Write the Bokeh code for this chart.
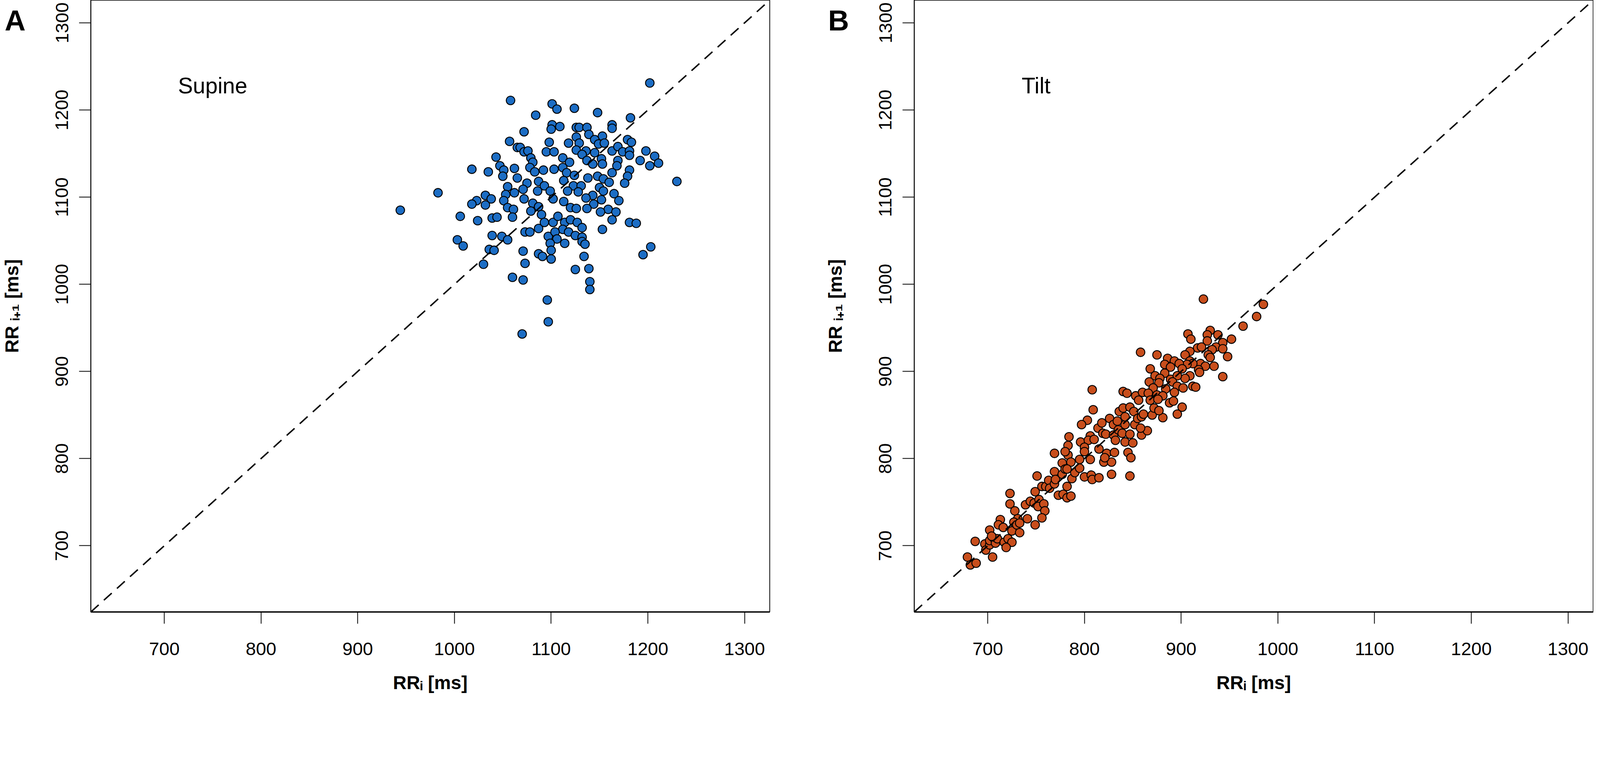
from bokeh.plotting import figure
from bokeh.layouts import row
from bokeh.models import Range1d, FixedTicker, Slope, Label, LinearAxis
from bokeh.embed import file_html
from bokeh.resources import INLINE

# ---------------- data ----------------
AXIS_TICKS = [700, 800, 900, 1000, 1100, 1200, 1300]
AXIS_LIMITS = [624, 1326]
PANEL_LETTERS = ["A", "B"]
LETTER_Y = 1312
CONDITIONS = ["Supine", "Tilt"]
COND_TEXT_POS = [750, 1228]
X_TITLE = "RRᵢ [ms]"
Y_TITLE = "RR ᵢ₊₁ [ms]"

SUPINE_X = [1202, 1058, 1101, 1106, 1124, 1148, 1084, 1182, 1101, 1109, 1100, 1072, 1126, 1129, 1137,
            1163, 1163, 1139, 1126, 1153, 1057, 1098, 1118, 1129, 1145, 1149, 1179, 1183, 1065, 1068,
            1072, 1076, 1095, 1103, 1126, 1136, 1145, 1155, 1163, 1169, 1174, 1181, 1181, 1198, 1207,
            1192, 1211, 1202, 1043, 1079, 1081, 1112, 1119, 1132, 1137, 1143, 1152, 1153, 1169, 1168,
            1181, 1179, 1176, 1230, 1047, 1051, 1062, 1050, 1065, 1018, 1035, 1078, 1083, 1092, 1103,
            1112, 1116, 1124, 1138, 1148, 1154, 1163, 1160, 1113, 1087, 1093, 1075, 1055, 1123, 1131,
            1150, 983, 1032, 1038, 1023, 1018, 1032, 1053, 1062, 1071, 1086, 1099, 1117, 1128, 1143,
            1154, 1165, 1170, 1051, 1072, 1081, 1102, 1113, 1136, 1144, 1152, 1055, 1061, 1087, 1120,
            1126, 1137, 1159, 1167, 1151, 944, 1006, 1024, 1039, 1044, 1060, 1079, 1090, 1087, 1073,
            1078, 1093, 1102, 1107, 1114, 1120, 1127, 1132, 1112, 1118, 1125, 1132, 1132, 1135, 1097,
            1104, 1106, 1099, 1114, 1100, 1100, 1087, 1091, 1071, 1073, 1060, 1071, 1134, 1125, 1139,
            1140, 1140, 1096, 1097, 1070, 1003, 1009, 1036, 1041, 1030, 1039, 1049, 1055, 1153, 1163,
            1181, 1188, 1203, 1195]
SUPINE_Y = [1231, 1211, 1207, 1201, 1202, 1197, 1194, 1191, 1183, 1181, 1178, 1175, 1180, 1180, 1180,
            1183, 1179, 1172, 1169, 1170, 1164, 1163, 1162, 1162, 1166, 1161, 1166, 1163, 1157, 1157,
            1152, 1153, 1152, 1152, 1154, 1153, 1151, 1162, 1153, 1158, 1152, 1153, 1148, 1153, 1147,
            1142, 1139, 1136, 1146, 1145, 1140, 1145, 1140, 1149, 1142, 1138, 1144, 1138, 1142, 1136,
            1131, 1124, 1116, 1118, 1136, 1131, 1133, 1124, 1122, 1132, 1129, 1134, 1129, 1131, 1132,
            1134, 1128, 1125, 1122, 1124, 1121, 1128, 1117, 1119, 1118, 1113, 1116, 1112, 1113, 1113,
            1111, 1105, 1102, 1098, 1096, 1092, 1091, 1103, 1105, 1109, 1107, 1107, 1107, 1106, 1102,
            1107, 1104, 1096, 1096, 1098, 1093, 1098, 1095, 1099, 1092, 1097, 1088, 1086, 1089, 1088,
            1087, 1087, 1086, 1083, 1083, 1085, 1078, 1073, 1076, 1077, 1077, 1084, 1080, 1064, 1060,
            1060, 1071, 1071, 1078, 1071, 1074, 1071, 1065, 1063, 1060, 1056, 1054, 1049, 1046, 1055,
            1060, 1052, 1047, 1047, 1039, 1029, 1035, 1032, 1038, 1024, 1008, 1005, 1032, 1017, 1018,
            1003, 994, 982, 957, 943, 1051, 1044, 1040, 1039, 1023, 1056, 1055, 1051, 1063, 1074,
            1071, 1070, 1043, 1034]

TILT_X = [679, 682, 688, 687, 697, 698, 702, 705, 702, 702, 706, 708, 710, 704, 713, 711, 716, 717, 721,
          725, 719, 723, 723, 728, 731, 727, 725, 730, 733, 733, 739, 741, 749, 744, 748, 749, 753, 752,
          758, 759, 756, 751, 756, 760, 763, 764, 769, 769, 770, 773, 778, 782, 786, 777, 777, 780, 783,
          786, 782, 787, 790, 795, 795, 769,
          808, 809, 803, 797, 784, 783, 780, 796, 806, 804, 810, 800, 800, 806, 782, 800, 807, 808, 815,
          828, 847, 814, 815, 820, 828, 823, 821, 831, 818, 819, 822, 826, 830, 830, 835, 832, 839, 842,
          845, 848, 850, 847, 852, 859, 865, 858, 842, 836, 840, 847, 842, 851, 855, 859, 870, 881, 853,
          856, 840, 844, 834,
          923, 985, 978, 964, 952, 948, 943, 930, 927, 938, 907, 910, 927, 943, 936, 943, 932, 917, 921,
          909, 904, 928, 930, 920, 925, 934, 918, 919, 909, 912, 906, 909, 904, 912, 915, 875, 858, 886,
          893, 883, 889, 898, 901, 868, 873, 883, 878, 889, 896, 867, 877, 891, 896, 902, 884, 871, 860,
          866, 875, 881, 893, 868, 876, 888, 892, 901, 872, 877, 861, 896]
TILT_Y = [687, 678, 680, 705, 702, 695, 718, 687, 701, 706, 709, 703, 708, 711, 730, 724, 721, 704, 708,
          704, 698, 760, 748, 740, 731, 727, 717, 724, 715, 726, 747, 731, 724, 751, 749, 762, 753, 745,
          748, 740, 732, 780, 768, 768, 775, 766, 771, 785, 776, 758, 759, 755, 757, 795, 782, 788, 804,
          796, 768, 777, 784, 799, 789, 806,
          879, 856, 844, 839, 825, 815, 808, 819, 826, 821, 822, 813, 808, 799, 788, 779, 781, 776, 778,
          782, 780, 835, 811, 796, 796, 806, 801, 807, 841, 829, 828, 846, 839, 827, 833, 821, 829, 819,
          807, 801, 818, 828, 839, 827, 832, 835, 839, 854, 858, 859, 848, 854, 846, 848, 850, 847, 872,
          867, 877, 875, 843,
          983, 977, 963, 952, 937, 917, 894, 947, 942, 942, 943, 937, 935, 933, 928, 926, 925, 927, 928,
          923, 919, 919, 916, 909, 906, 906, 902, 899, 912, 909, 908, 895, 892, 883, 882, 919, 922, 915,
          912, 908, 905, 909, 903, 903, 895, 898, 892, 891, 895, 888, 887, 888, 883, 881, 880, 881, 876,
          875, 873, 872, 876, 867, 868, 864, 866, 859, 858, 855, 851, 851]

# ---------------- layout / style ----------------
FONT = "Liberation Sans"
FRAME_W, FRAME_H = 1740, 1566
BORDER_L = 230
FIG_H = 1784
BORDER_B = FIG_H - FRAME_H


def make_panel(xs, ys, color, cond, letter, border_right):
    p = figure(width=BORDER_L + FRAME_W + border_right, height=FIG_H,
               x_range=Range1d(*AXIS_LIMITS), y_range=Range1d(*AXIS_LIMITS),
               output_backend="svg", toolbar_location=None,
               min_border_left=BORDER_L, min_border_right=border_right,
               min_border_top=0, min_border_bottom=BORDER_B)
    p.title.visible = False
    p.grid.visible = False
    p.background_fill_color = "white"
    p.border_fill_color = "white"
    p.outline_line_color = "black"
    p.outline_line_width = 2

    for ax in (p.xaxis[0], p.yaxis[0]):
        ax.ticker = FixedTicker(ticks=AXIS_TICKS)
        ax.major_tick_out = 30
        ax.major_tick_in = 0
        ax.minor_tick_out = 0
        ax.minor_tick_in = 0
        ax.major_tick_line_width = 2
        ax.major_tick_line_color = "black"
        ax.axis_line_color = "black"
        ax.major_label_text_font = FONT
        ax.major_label_text_font_size = "47px"
        ax.major_label_text_color = "black"
        ax.axis_label_text_font = FONT
        ax.axis_label_text_font_size = "48px"
        ax.axis_label_text_font_style = "bold"
        ax.axis_label_text_color = "black"
    p.xaxis.axis_line_width = 3.5
    p.yaxis.axis_line_width = 2
    p.xaxis.major_label_standoff = 48
    p.yaxis.major_label_standoff = 28
    p.yaxis.major_label_orientation = "vertical"
    p.xaxis.axis_label = X_TITLE
    p.yaxis.axis_label = Y_TITLE
    p.xaxis.axis_label_standoff = 41
    p.yaxis.axis_label_standoff = 83

    # panel letter, drawn as the only tick label of an extra, line-less left axis
    letter_axis = LinearAxis(ticker=FixedTicker(ticks=[LETTER_Y]),
                             major_label_overrides={LETTER_Y: letter},
                             major_label_text_font=FONT,
                             major_label_text_font_size="74px",
                             major_label_text_font_style="bold",
                             major_label_text_color="black",
                             major_label_orientation="horizontal",
                             major_label_standoff=-65,
                             major_tick_out=0, major_tick_in=0,
                             minor_tick_out=0, minor_tick_in=0,
                             axis_line_color=None, major_tick_line_color=None,
                             minor_tick_line_color=None)
    p.add_layout(letter_axis, "left")

    p.scatter(xs, ys, size=22, fill_color=color, line_color="black", line_width=2.3)
    p.add_layout(Slope(gradient=1, y_intercept=0, line_color="black",
                       line_width=3.7, line_dash="27 18"))

    p.add_layout(Label(x=COND_TEXT_POS[0], y=COND_TEXT_POS[1], text=cond,
                       text_font=FONT, text_font_size="57px", text_color="black",
                       text_align="center", text_baseline="alphabetic"))
    return p


pA = make_panel(SUPINE_X, SUPINE_Y, "#1C6DC4", CONDITIONS[0], PANEL_LETTERS[0], 138)
pB = make_panel(TILT_X, TILT_Y, "#C84E1C", CONDITIONS[1], PANEL_LETTERS[1], 1)

layout = row(pA, pB)
open("out.html", "w").write(file_html(layout, INLINE))
